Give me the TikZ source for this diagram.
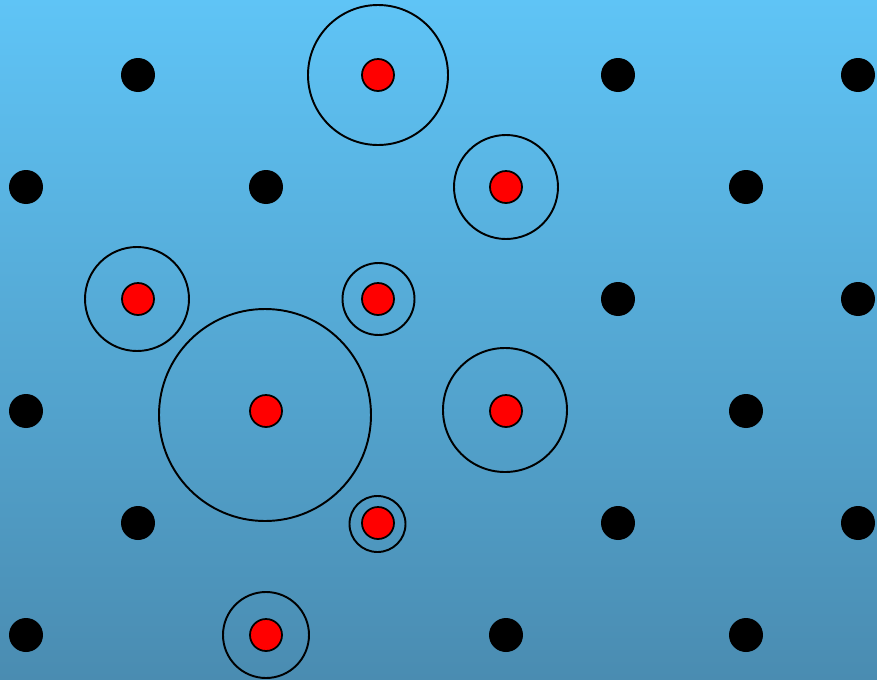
\documentclass[tikz,border=0pt]{standalone}
\usepackage{tikz}
\usepackage{xcolor}
\definecolor{skyTop}{HTML}{5FC4F6}
\definecolor{skyBottom}{HTML}{4A8CB1}

\tikzset{
  site/.style={circle,fill=black,minimum size=0.68cm,inner sep=0pt},
  defect/.style={circle,draw=black,fill=red,line width=1pt,minimum size=0.64cm,inner sep=0pt},
  ring/.style={draw=black,line width=1.1pt}
}

\begin{document}
\begin{tikzpicture}[x=0.02cm,y=-0.02cm]
  \shade[top color=skyTop,bottom color=skyBottom] (0,0) rectangle (877,680);
  \useasboundingbox (0,0) rectangle (877,680);
  % lattice sites
  \foreach \px/\py [count=\i] in {138/75,618/75,858/75,26/187,266/187,746/187,
      618/299,858/299,26/411,746/411,138/523,618/523,858/523,26/635,506/635,746/635}
    \node[site] (s\i) at (\px,\py) {};
  % occupied sites
  \node[defect] (d1) at (378,75) {};
  \node[defect] (d2) at (506,187) {};
  \node[defect] (d3) at (138,299) {};
  \node[defect] (d4) at (378,299) {};
  \node[defect] (d5) at (266,411) {};
  \node[defect] (d6) at (506,411) {};
  \node[defect] (d7) at (378,523) {};
  \node[defect] (d8) at (266,635) {};
  % rings
  \draw[ring] (378,75) circle (70);
  \draw[ring] (506,187) circle (52);
  \draw[ring] (137,299) circle (52);
  \draw[ring] (378.5,299) circle (36);
  \draw[ring] (265,415) circle (106);
  \draw[ring] (505,410) circle (62);
  \draw[ring] (377.5,524) circle (28);
  \draw[ring] (266,635) circle (43);
\end{tikzpicture}
\end{document}
